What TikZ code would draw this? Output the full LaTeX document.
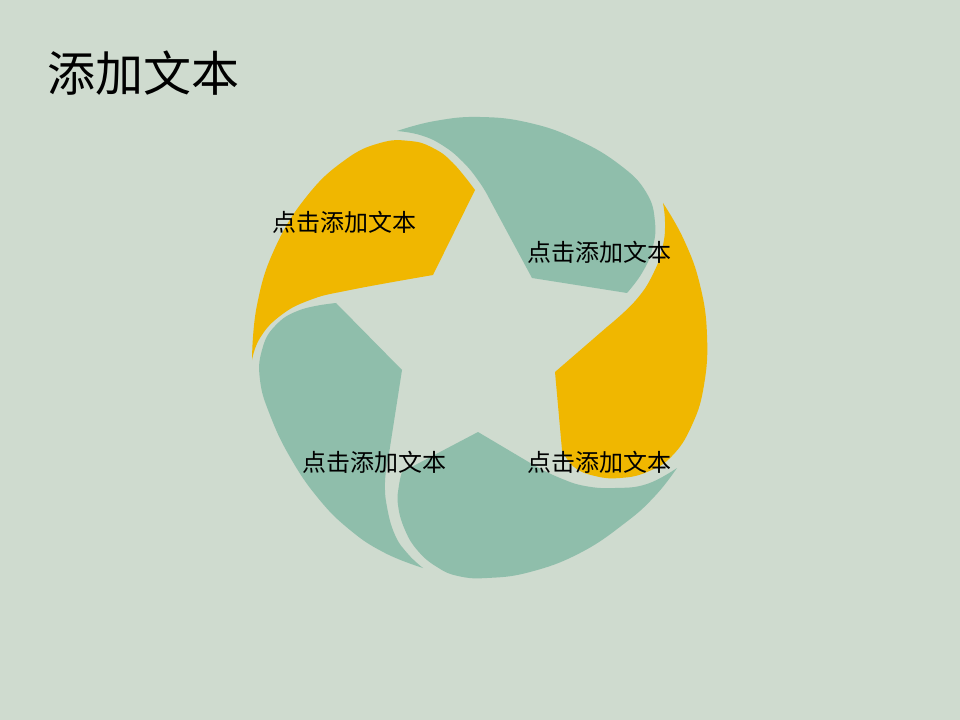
\documentclass[tikz,border=0pt]{standalone}
\usepackage{fontspec}
\newfontfamily\cjk{Noto Sans CJK SC}
\definecolor{bgc}{RGB}{207,219,207}
\definecolor{tealc}{RGB}{143,190,171}
\definecolor{yelc}{RGB}{240,183,0}
\begin{document}
\begin{tikzpicture}[x=0.75pt,y=-0.75pt,
  lbl/.style={font=\cjk\fontsize{18}{22}\selectfont, inner sep=0pt, text=black},
  ttl/.style={font=\cjk\fontsize{36}{43}\selectfont, inner sep=0pt, text=black},
  yseg/.style={fill=yelc},
  tseg/.style={fill=tealc},
  sm/.style={smooth,tension=0.75}]
\fill[bgc] (0,0) rectangle (960,720);
\useasboundingbox (0,0) rectangle (960,720);
% yellow top-left
\path[yseg] (433,275) -- (475,190)
  -- plot[sm] coordinates {(475,190) (453,163) (433,148) (410,141) (380,143) (345,160) (307,196) (275,248) (257,305) (252,360)}
  -- plot[sm] coordinates {(252,360) (260,338) (280,316) (310,300) (350,290) (433,275)} -- cycle;
% teal top
\path[tseg] (532,278) -- (490,200)
  -- plot[sm] coordinates {(490,200) (480,183) (463,162) (442,145) (420,135) (397,131)}
  -- plot[sm] coordinates {(397,131) (435,121) (480,117) (530,123) (578,140) (620,165) (646,192) (655,222) (652,250) (642,273) (627,293)} -- cycle;
% yellow right
\path[yseg] (555,372) -- (607,327)
  -- plot[sm] coordinates {(607,327) (636,300) (654,272) (663,245) (665,222) (663,203)}
  -- plot[sm] coordinates {(663,203) (684,240) (700,285) (707,335) (704,385) (692,425) (672,456) (647,472) (620,478) (595,476) (574,467) (562,450)} -- cycle;
% teal bottom
\path[tseg] (478,432) -- (537,467)
  -- plot[sm] coordinates {(537,467) (560,478) (585,486) (615,488) (647,484) (677,468)}
  -- plot[sm] coordinates {(677,468) (655,496) (625,523) (580,553) (530,572) (487,578) (458,576) (437,567) (418,551) (405,530) (398,505) (399,485) (402,472)} -- cycle;
% teal left
\path[tseg] (336,303) -- (402,370) -- (388,460)
  -- plot[sm] coordinates {(388,460) (385,482) (387,507) (395,535) (408,554) (423,568)}
  -- plot[sm] coordinates {(423,568) (385,553) (350,530) (318,498) (290,457) (270,415) (260,380) (262,350) (275,326) (300,310) (336,303)} -- cycle;
% texts
\node[ttl] (title) at (143,73) {添加文本};
\node[lbl] (t1) at (344,222) {点击添加文本};
\node[lbl] (t2) at (599,252) {点击添加文本};
\node[lbl] (t3) at (374,462) {点击添加文本};
\node[lbl] (t4) at (599,462) {点击添加文本};
\end{tikzpicture}
\end{document}
